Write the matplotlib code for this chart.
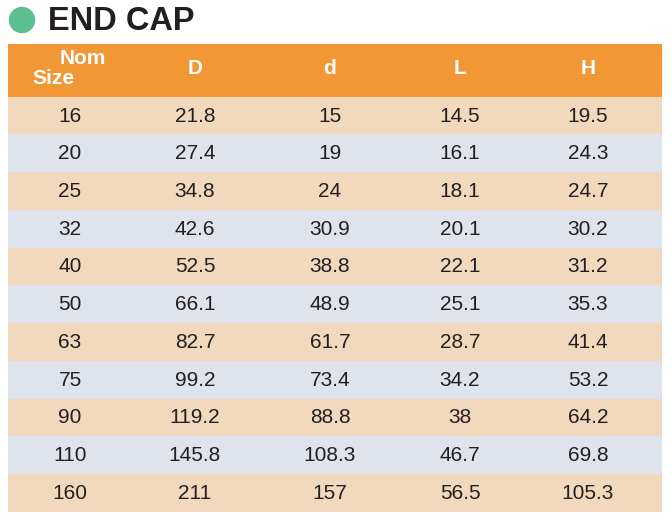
import matplotlib
matplotlib.use("Agg")
import matplotlib.pyplot as plt
from matplotlib.patches import Rectangle, Circle

plt.rcParams['font.family'] = ['Liberation Sans', 'DejaVu Sans']

title = "END CAP"
columns = ["Nom\nSize", "D", "d", "L", "H"]
nom_size = ["16", "20", "25", "32", "40", "50", "63", "75", "90", "110", "160"]
D_vals = ["21.8", "27.4", "34.8", "42.6", "52.5", "66.1", "82.7", "99.2", "119.2", "145.8", "211"]
d_vals = ["15", "19", "24", "30.9", "38.8", "48.9", "61.7", "73.4", "88.8", "108.3", "157"]
L_vals = ["14.5", "16.1", "18.1", "20.1", "22.1", "25.1", "28.7", "34.2", "38", "46.7", "56.5"]
H_vals = ["19.5", "24.3", "24.7", "30.2", "31.2", "35.3", "41.4", "53.2", "64.2", "69.8", "105.3"]

W, Hpx = 672, 523
fig = plt.figure(figsize=(W / 100, Hpx / 100), dpi=100)
ax = fig.add_axes([0, 0, 1, 1])
ax.set_xlim(0, W)
ax.set_ylim(Hpx, 0)
ax.axis("off")

orange = "#F29735"
peach = "#F2D9BE"
blue = "#DFE3EC"
textc = "#231F20"

# title
ax.add_patch(Circle((22, 20), 12.5, color="#5BBF8F"))
ax.text(48, 21, title, fontsize=23.5, fontweight="bold", color=textc,
        va="center", ha="left")

left, right = 8, 662
top, head_bot = 43.5, 96.7
row_h = 37.73
col_x = [70, 195, 330, 460, 588]

ax.add_patch(Rectangle((left, top), right - left, head_bot - top, color=orange, lw=0))
ax.text(83, 58, "Nom", fontsize=15, fontweight="bold", color="white", ha="center", va="center")
ax.text(53, 79, "Size", fontsize=15, fontweight="bold", color="white", ha="center", va="center")
for cx, name in zip(col_x[1:], columns[1:]):
    ax.text(cx, 69, name, fontsize=15, fontweight="bold", color="white", ha="center", va="center")

rows = list(zip(nom_size, D_vals, d_vals, L_vals, H_vals))
for i, row in enumerate(rows):
    y0 = head_bot + i * row_h
    ax.add_patch(Rectangle((left, y0), right - left, row_h,
                           color=peach if i % 2 == 0 else blue, lw=0))
    for cx, v in zip(col_x, row):
        ax.text(cx, y0 + row_h / 2 + 0.5, v, fontsize=15, color=textc,
                ha="center", va="center")

fig.savefig("out.png", dpi=100)
